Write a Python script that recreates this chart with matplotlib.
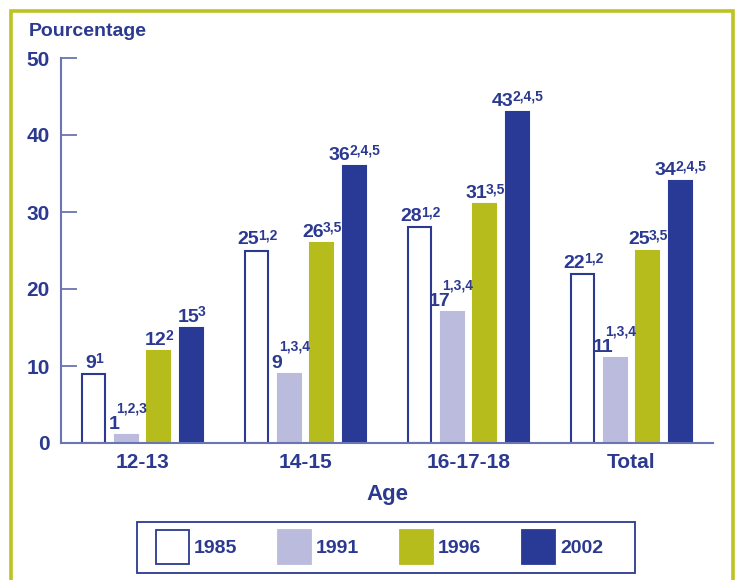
import matplotlib
matplotlib.use("Agg")
import matplotlib.pyplot as plt
from matplotlib.patches import Rectangle, Patch
import numpy as np

plt.rcParams['font.family'] = ['Liberation Sans', 'DejaVu Sans']
plt.rcParams['font.weight'] = 'bold'

categories = ["12-13", "14-15", "16-17-18", "Total"]
years = ["1985", "1991", "1996", "2002"]
v1985 = [9, 25, 28, 22]
v1991 = [1, 9, 17, 11]
v1996 = [12, 26, 31, 25]
v2002 = [15, 36, 43, 34]
s1985 = ["1", "1,2", "1,2", "1,2"]
s1991 = ["1,2,3", "1,3,4", "1,3,4", "1,3,4"]
s1996 = ["2", "3,5", "3,5", "3,5"]
s2002 = ["3", "2,4,5", "2,4,5", "2,4,5"]
yticks = [0, 10, 20, 30, 40, 50]

BLUE = "#2b3990"
AXC = "#6b74b4"
LAV = "#bbbbdd"
OLIVE = "#b5bc1c"
DARK = "#283a96"
FRAME = "#bcc423"

values = [v1985, v1991, v1996, v2002]
sups = [s1985, s1991, s1996, s2002]
faces = ["white", LAV, OLIVE, DARK]
edges = [BLUE, LAV, OLIVE, DARK]
raised = [False, True, False, False]

fig = plt.figure(figsize=(7.38, 5.8), dpi=100)
fig.patch.set_facecolor("white")
# outer frame
fig.patches.append(Rectangle((11/738, -0.1), (733-11)/738, 1.1 - 11/580,
                             transform=fig.transFigure, fill=False,
                             edgecolor=FRAME, linewidth=2.6, zorder=0))

ax = fig.add_axes([61/738, 1-443/580, (713-61)/738, (443-58)/580])
x = np.arange(len(categories))
w = 0.14
offs = [-0.3, -0.1, 0.1, 0.3]
pairs = []
for i in range(4):
    ax.bar(x + offs[i]*0.995, values[i], width=w, color=faces[i],
           edgecolor=edges[i], linewidth=1.5, zorder=2, label=years[i])
    for j, v in enumerate(values[i]):
        xc = x[j] + offs[i]*0.995
        if raised[i]:
            gn, gs = 6, 23
            tn = ax.annotate(str(v), xy=(xc, v), xytext=(-12.5, gn), textcoords='offset pixels',
                             ha='center', va='baseline', fontsize=14, color=BLUE, fontweight='bold')
            ts = ax.annotate(sups[i][j], xy=(xc, v), xytext=(5, gs), textcoords='offset pixels',
                             ha='center', va='baseline', fontsize=10, color=BLUE, fontweight='bold')
        else:
            gn, gs = 6, 11
            tn = ax.annotate(str(v), xy=(xc, v), xytext=(0, gn), textcoords='offset pixels',
                             ha='right', va='baseline', fontsize=14, color=BLUE, fontweight='bold')
            ts = ax.annotate(sups[i][j], xy=(xc, v), xytext=(0, gs), textcoords='offset pixels',
                             ha='left', va='baseline', fontsize=10, color=BLUE, fontweight='bold')
            pairs.append((tn, ts, gn, gs))

ax.set_xlim(-0.5, 3.5)
ax.set_ylim(0, 50)
ax.set_yticks(yticks)
ax.set_yticklabels([str(t) for t in yticks], fontsize=15, color=BLUE, fontweight='bold')
ax.set_xticks(x)
ax.set_xticklabels(categories, fontsize=15, color=BLUE, fontweight='bold')
ax.tick_params(axis='y', direction='in', length=11.5, width=1.3, color=AXC, pad=8)
ax.tick_params(axis='x', length=0, pad=7)
for s in ['top', 'right']:
    ax.spines[s].set_visible(False)
for s in ['left', 'bottom']:
    ax.spines[s].set_color(AXC)
    ax.spines[s].set_linewidth(1.5)
ax.set_xlabel("Age", fontsize=16, color=BLUE, fontweight='bold', labelpad=9)
fig.text(29/738, 1-31/580, "Pourcentage", fontsize=14, color=BLUE, fontweight='bold',
         ha='left', va='center')

handles = [Patch(facecolor=faces[i], edgecolor=(BLUE if i == 0 else edges[i]), linewidth=1.3)
           for i in range(4)]
leg = fig.legend(handles, years, loc='center left', bbox_to_anchor=(156/738, 1-547/580), ncol=4,
                 fontsize=14, frameon=False, handlelength=1.7, handleheight=2.3,
                 handletextpad=0.25, columnspacing=2.1, borderpad=0, borderaxespad=0)
for t in leg.get_texts():
    t.set_color(BLUE)
    t.set_fontweight('bold')
fig.patches.append(Rectangle((137/738, 1-573/580), (635-137)/738, (573-522)/580,
                             transform=fig.transFigure, fill=False,
                             edgecolor=BLUE, linewidth=1.3, zorder=1))

fig.canvas.draw()
r = fig.canvas.get_renderer()
for tn, ts, gn, gs in pairs:
    wn = tn.get_window_extent(r).width
    ws = ts.get_window_extent(r).width
    a = (wn - ws) / 2
    tn.xyann = (a + 1, gn)
    ts.xyann = (a, gs)

fig.savefig("out.png", dpi=100)
